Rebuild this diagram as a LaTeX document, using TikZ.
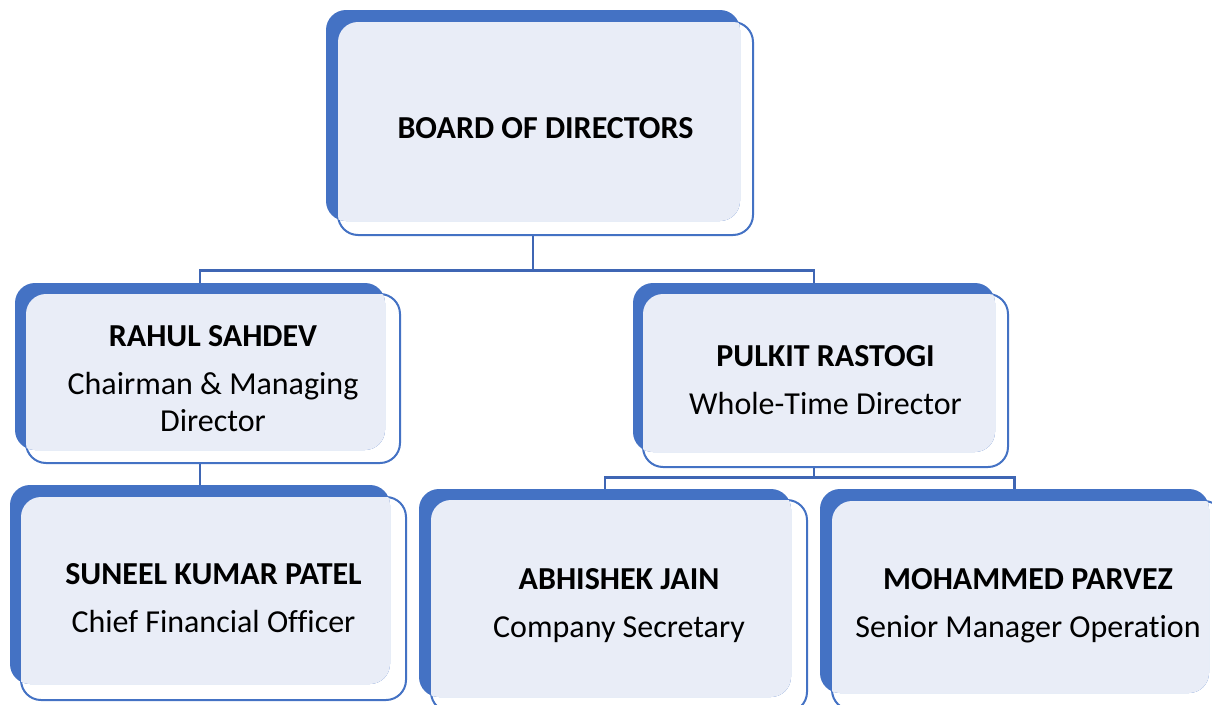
\documentclass[tikz,border=0pt]{standalone}
\usepackage{fontspec}
\setmainfont{Carlito}[Ligatures=NoCommon]
\usetikzlibrary{fit,calc,backgrounds}
\definecolor{accent}{HTML}{4472C4}
\definecolor{paleblue}{HTML}{E9EDF7}
\definecolor{linkblue}{HTML}{3F66B4}
\tikzset{
  frontbox/.style={fill=white, draw=accent, line width=2pt, rounded corners=20pt},
  backbox/.style={fill=accent, rounded corners=20pt},
  cardtext/.style={align=center, inner sep=0pt, font=\fontsize{32}{37}\selectfont},
  link/.style={draw=linkblue, line width=2.6pt}
}
\newcommand\orgcard[5]{%
  \coordinate (#1-b1) at #2; \coordinate (#1-b2) at #3;
  \coordinate (#1-f1) at #4; \coordinate (#1-f2) at #5;
  \path[frontbox] (#1-f1) rectangle (#1-f2);
  \path[backbox] (#1-b1) rectangle (#1-b2);
  \begin{scope}
    \clip[rounded corners=20pt] (#1-f1) rectangle (#1-f2);
    \fill[paleblue, rounded corners=20pt] (#1-b1) rectangle (#1-b2);
  \end{scope}
  \node[fit=(#1-b1)(#1-b2), inner sep=0pt] (#1) {};
}
\begin{document}
\begin{tikzpicture}[x=1pt, y=-1pt]
\useasboundingbox (0,0) rectangle (1212,704);

\orgcard{board}{(326,10)}{(740,221)}{(338,22)}{(753,235)}
\node[cardtext] (board-t) at ($(board-f1)!0.5!(board-f2)$) {\textbf{BOARD OF DIRECTORS}};

\orgcard{rahul}{(15,283)}{(385,450)}{(26,294)}{(400,463)}
\node[cardtext] (rahul-t) at ($(rahul-f1)!0.5!(rahul-f2)$) {\textbf{RAHUL SAHDEV}\\[11pt]Chairman \& Managing\\Director};

\orgcard{pulkit}{(633,283)}{(995,452)}{(643,294)}{(1008,467)}
\node[cardtext] (pulkit-t) at ($(pulkit-f1)!0.5!(pulkit-f2)$) {\textbf{PULKIT RASTOGI}\\[11pt]Whole-Time Director};

\orgcard{suneel}{(10,485)}{(390,684)}{(21,497)}{(406,700)}
\node[cardtext] (suneel-t) at ($(suneel-f1)!0.5!(suneel-f2)$) {\textbf{SUNEEL KUMAR PATEL}\\[11pt]Chief Financial Officer};

\orgcard{abhishek}{(419,489)}{(791,697)}{(431,500)}{(807,712)}
\node[cardtext] (abhishek-t) at ($(abhishek-f1)!0.5!(abhishek-f2)$) {\textbf{ABHISHEK JAIN}\\[11pt]Company Secretary};

\orgcard{mohammed}{(820,489)}{(1209,693)}{(832,501)}{(1224,710)}
\node[cardtext] (mohammed-t) at ($(mohammed-f1)!0.5!(mohammed-f2)$) {\textbf{MOHAMMED PARVEZ}\\[11pt]Senior Manager Operation};

\begin{pgfonlayer}{background}
  \coordinate (j1) at ($(board.south)+(0,49)$);
  \draw[link] (board.south) -- (j1) -| (rahul.north);
  \draw[link] (j1) -| (pulkit.north);
  \draw[link] (rahul.south) -- (suneel.north);
  \coordinate (j2) at ($(pulkit.south)+(0,25)$);
  \draw[link] (pulkit.south) -- (j2) -| (abhishek.north);
  \draw[link] (j2) -| (mohammed.north);
\end{pgfonlayer}
\end{tikzpicture}
\end{document}
